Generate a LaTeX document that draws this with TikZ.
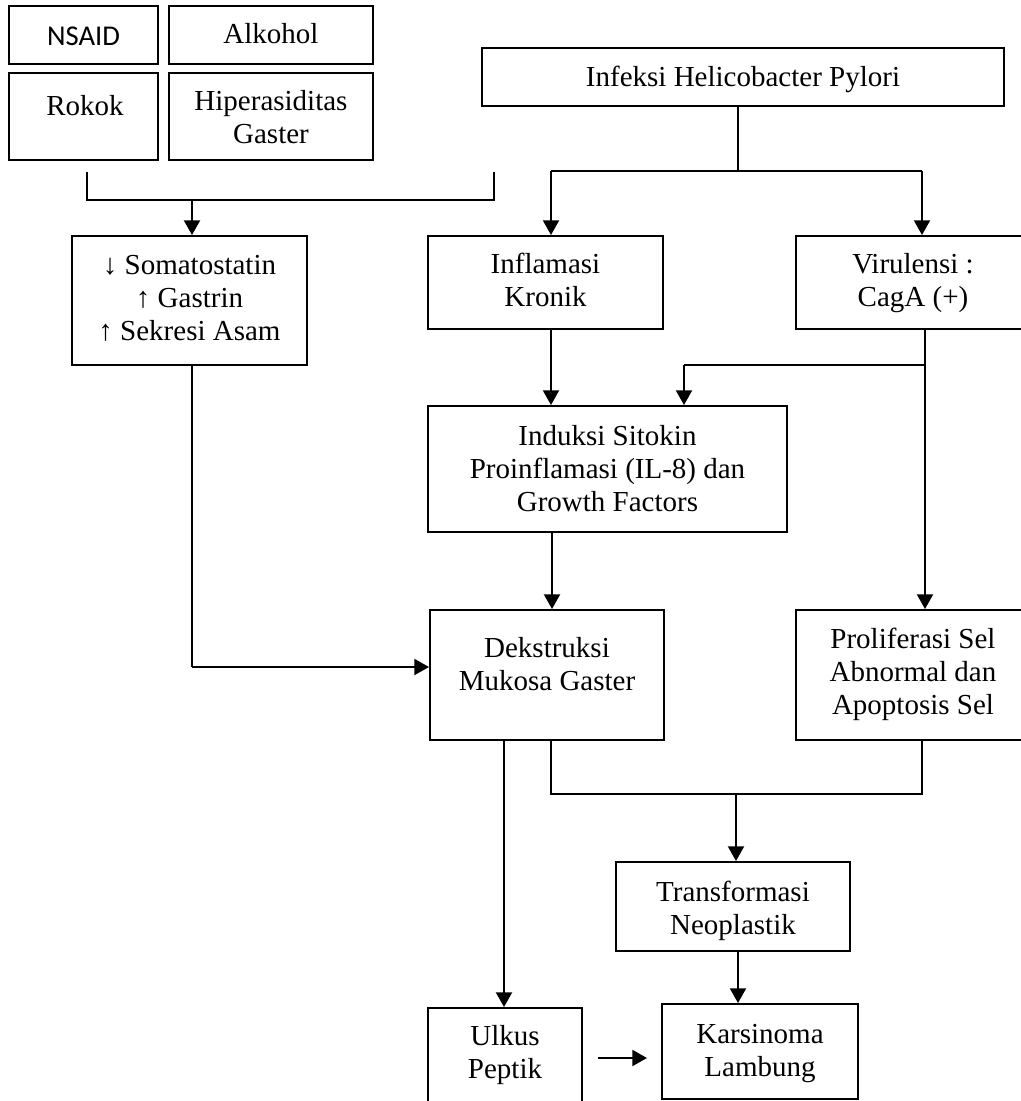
\documentclass[tikz,border=0pt]{standalone}
\usepackage{fontspec}
\setmainfont{Liberation Serif}
\newfontfamily\calibrifont{Carlito}
\usetikzlibrary{arrows.meta}
\newcommand\mlines[1]{\begin{tabular}[t]{@{}c@{}}#1\end{tabular}}
\begin{document}
\begin{tikzpicture}[x=0.75pt,y=-0.75pt,
  box/.style={draw, line width=1.5pt, inner sep=0pt, rectangle},
  txt/.style={inner sep=0pt, font=\fontsize{21.75pt}{25.1pt}\selectfont, anchor=base},
  sanstxt/.style={inner sep=0pt, font=\calibrifont\fontsize{21.5pt}{25pt}\selectfont, anchor=base},
  arr/.style={line width=1.5pt, -{Triangle[length=11pt,width=12pt]}},
  thinline/.style={line width=0.8pt}]
\useasboundingbox (0,0) rectangle (1021,1101);
\fill[white] (0,0) rectangle (1021,1101);
\clip (0,0) rectangle (1021,1101);

% boxes
\node[box, minimum width=149*0.75pt, minimum height=58*0.75pt] (nsaid) at (83.5,35) {};
\node[box, minimum width=204*0.75pt, minimum height=58*0.75pt] (alk) at (271,35) {};
\node[box, minimum width=149*0.75pt, minimum height=87*0.75pt] (rokok) at (83.5,116.5) {};
\node[box, minimum width=204*0.75pt, minimum height=87*0.75pt] (hiper) at (271,116.5) {};
\node[box, minimum width=235*0.75pt, minimum height=129*0.75pt] (soma) at (189.5,300.5) {};
\node[box, minimum width=522*0.75pt, minimum height=58*0.75pt] (infeksi) at (743,77) {};
\node[box, minimum width=235*0.75pt, minimum height=93*0.75pt] (infl) at (545.5,282.5) {};
\node[box, minimum width=234*0.75pt, minimum height=93*0.75pt] (viru) at (913,282.5) {};
\node[box, minimum width=359*0.75pt, minimum height=126*0.75pt] (induksi) at (607.5,469) {};
\node[box, minimum width=234*0.75pt, minimum height=130*0.75pt] (dek) at (547,675) {};
\node[box, minimum width=234*0.75pt, minimum height=130*0.75pt] (prol) at (913,675) {};
\node[box, minimum width=234*0.75pt, minimum height=89*0.75pt] (trans) at (733,906.5) {};
\node[box, minimum width=196*0.75pt, minimum height=95*0.75pt] (kars) at (760,1051.5) {};
\node[box, minimum width=154*0.75pt, minimum height=97*0.75pt] (ulkus) at (505,1056.5) {};

% texts
\node[sanstxt] (t-nsaid) at (83.5,45) {NSAID};
\node[txt] (t-alk) at (271,43) {Alkohol};
\node[txt] (t-rokok) at (85,115) {Rokok};
\node[txt] (t-hiper) at (271,110) {\mlines{Hiperasiditas\\Gaster}};
\node[txt] (t-soma) at (189.5,274) {\mlines{↓ Somatostatin\\↑ Gastrin\\↑ Sekresi Asam}};
\node[txt] (t-infeksi) at (743,86) {Infeksi Helicobacter Pylori};
\node[txt] (t-infl) at (545.5,273) {\mlines{Inflamasi\\Kronik}};
\node[txt] (t-viru) at (913,273) {\mlines{Virulensi :\\CagA (+)}};
\node[txt] (t-induksi) at (607.5,445) {\mlines{Induksi Sitokin\\Proinflamasi (IL-8) dan\\Growth Factors}};
\node[txt] (t-dek) at (547,657) {\mlines{Dekstruksi\\Mukosa Gaster}};
\node[txt] (t-prol) at (913,648) {\mlines{Proliferasi Sel\\Abnormal dan\\Apoptosis Sel}};
\node[txt] (t-trans) at (733,901) {\mlines{Transformasi\\Neoplastik}};
\node[txt] (t-kars) at (760,1043) {\mlines{Karsinoma\\Lambung}};
\node[txt] (t-ulkus) at (505,1045) {\mlines{Ulkus\\Peptik}};

% top-left bracket
\coordinate (bl) at (87,172);
\coordinate (blb) at (87,200);
\coordinate (br) at (494,172);
\coordinate (brb) at (494,200);
\coordinate (bm) at (192,200);
\draw[thinline] (bl) -- (blb) -- (brb) -- (br);
\draw[arr] (bm) -- (bm |- soma.north);

% infeksi split
\coordinate (hs) at (738,171);
\coordinate (hl) at (551,171);
\coordinate (hr) at (922,171);
\draw[thinline] (infeksi.south -| hs) -- (hs);
\draw[thinline] (hl) -- (hr);
\draw[arr] (hl) -- (hl |- infl.north);
\draw[arr] (hr) -- (hr |- viru.north);

% inflamasi -> induksi
\coordinate (a1) at (551,329);
\draw[arr] (a1) -- (a1 |- induksi.north);

% virulensi -> proliferasi and branch to induksi
\coordinate (v1) at (925,329);
\coordinate (vb) at (925,365);
\coordinate (vb2) at (684,365);
\draw[arr] (v1) -- (v1 |- prol.north);
\draw[thinline] (vb) -- (vb2);
\draw[arr] (vb2) -- (vb2 |- induksi.north);

% induksi -> dekstruksi
\coordinate (i1) at (552,532);
\draw[arr] (i1) -- (i1 |- dek.north);

% somatostatin -> dekstruksi
\coordinate (s1) at (192,365);
\coordinate (s2) at (192,667);
\draw[thinline] (s1) -- (s2);
\draw[arr] (s2) -- (s2 -| dek.west);

% dekstruksi -> ulkus
\coordinate (d1) at (504,740);
\draw[arr] (d1) -- (d1 |- ulkus.north);

% bottom bracket
\coordinate (d2) at (551,740);
\coordinate (d3) at (551,794);
\coordinate (p1) at (922,740);
\coordinate (p2) at (922,794);
\coordinate (m1) at (736,794);
\draw[thinline] (d2) -- (d3) -- (p2) -- (p1);
\draw[arr] (m1) -- (m1 |- trans.north);

% transformasi -> karsinoma
\coordinate (t1) at (738,951);
\draw[arr] (t1) -- (t1 |- kars.north);

% ulkus -> karsinoma
\coordinate (u1) at (598,1058);
\coordinate (u2) at (647,1058);
\draw[arr] (u1) -- (u2);
\end{tikzpicture}
\end{document}
